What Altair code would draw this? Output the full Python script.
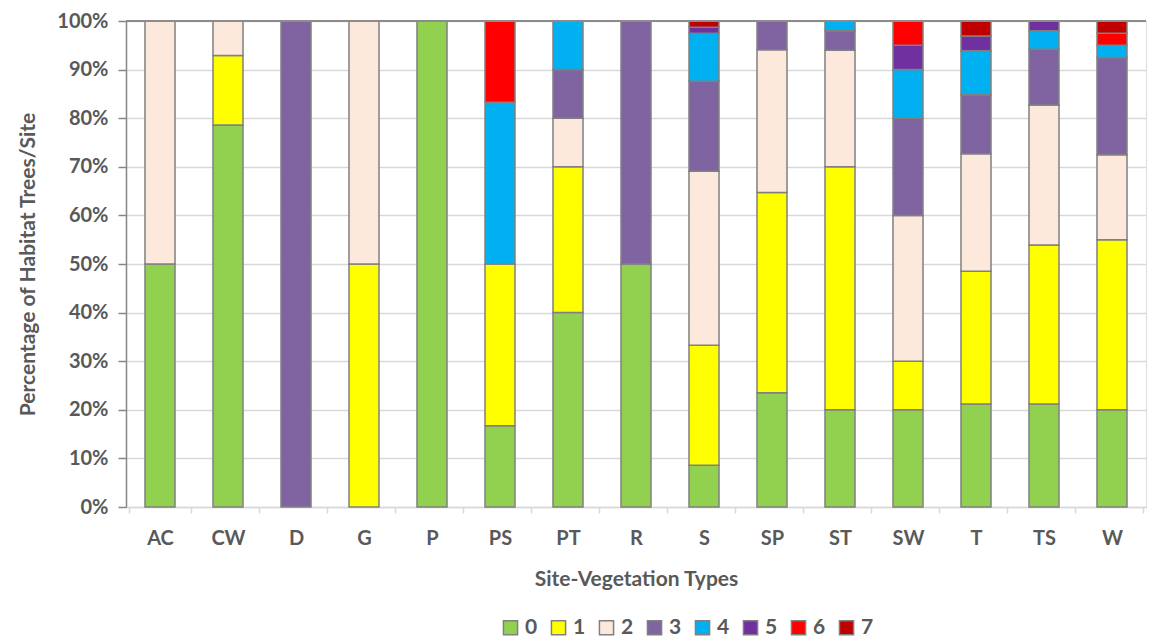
import altair as alt
import pandas as pd

sites = ["AC", "CW", "D", "G", "P", "PS", "PT", "R", "S", "SP", "ST", "SW", "T", "TS", "W"]
classes = ["0", "1", "2", "3", "4", "5", "6", "7"]
colors = ["#92D050", "#FFFF00", "#FCE9DB", "#8064A2", "#00B0F0", "#7030A0", "#FF0000", "#C00000"]

# percentage of habitat trees per class (0..7) for each site
pct_AC = [50, 0, 50, 0, 0, 0, 0, 0]
pct_CW = [78.6, 14.3, 7.1, 0, 0, 0, 0, 0]
pct_D = [0, 0, 0, 100, 0, 0, 0, 0]
pct_G = [0, 50, 50, 0, 0, 0, 0, 0]
pct_P = [100, 0, 0, 0, 0, 0, 0, 0]
pct_PS = [16.7, 33.3, 0, 0, 33.3, 0, 16.7, 0]
pct_PT = [40, 30, 10, 10, 10, 0, 0, 0]
pct_R = [50, 0, 0, 50, 0, 0, 0, 0]
pct_S = [8.6, 24.7, 35.8, 18.5, 9.9, 1.2, 0, 1.3]
pct_SP = [23.5, 41.2, 29.4, 5.9, 0, 0, 0, 0]
pct_ST = [20, 50, 24, 4, 2, 0, 0, 0]
pct_SW = [20, 10, 30, 20, 10, 5, 5, 0]
pct_T = [21.2, 27.3, 24.2, 12.1, 9.1, 3.0, 0, 3.1]
pct_TS = [21.2, 32.7, 28.8, 11.5, 3.8, 2.0, 0, 0]
pct_W = [20, 35, 17.5, 20, 2.5, 0, 2.5, 2.5]

values = [pct_AC, pct_CW, pct_D, pct_G, pct_P, pct_PS, pct_PT, pct_R, pct_S,
          pct_SP, pct_ST, pct_SW, pct_T, pct_TS, pct_W]

rows = []
for s, vals in zip(sites, values):
    for i, (c, v) in enumerate(zip(classes, vals)):
        if v > 0:
            rows.append({"site": s, "cls": c, "order": i, "pct": v / 100.0})
df = pd.DataFrame(rows)

FONT = "Lato"
GREY = "#595959"

bars = alt.Chart(df).mark_bar(size=30, stroke="#808080", strokeWidth=1.5).encode(
    x=alt.X("site:N", sort=sites, title="Site-Vegetation Types",
            axis=alt.Axis(labelAngle=0, tickBand="extent", tickSize=6, labelPadding=15,
                          labelFontSize=20, labelFontWeight="bold", labelColor=GREY,
                          titleFontSize=21, titleFontWeight="bold", titleColor=GREY,
                          titlePadding=20, domainColor="#D9D9D9", tickColor="#D9D9D9",
                          domainWidth=1.5, tickWidth=1.5, labelFont=FONT, titleFont=FONT)),
    y=alt.Y("pct:Q", stack="zero", scale=alt.Scale(domain=[0, 1]),
            title="Percentage  of Habitat Trees/Site",
            axis=alt.Axis(format=".0%", values=[i / 10 for i in range(11)], tickSize=8,
                          labelPadding=10, labelFontSize=20, labelFontWeight="bold",
                          labelColor=GREY, titleFontSize=21, titleFontWeight="bold",
                          titleColor=GREY, titlePadding=18, domainColor="#868686",
                          tickColor="#868686", domainWidth=1.5, tickWidth=1.5,
                          gridColor="#D9D9D9", gridWidth=1.5, labelFont=FONT, titleFont=FONT)),
    color=alt.Color("cls:N", sort=classes,
                    scale=alt.Scale(domain=classes, range=colors),
                    legend=alt.Legend(title=None, orient="none", direction="horizontal",
                                      legendX=374, legendY=596, symbolType="square",
                                      symbolSize=200, symbolStrokeColor="#808080",
                                      symbolStrokeWidth=1.5, labelFontSize=21,
                                      labelFontWeight="bold", labelColor=GREY,
                                      labelFont=FONT, columnPadding=10, labelOffset=4,
                                      symbolOpacity=1)),
    order=alt.Order("order:Q", sort="ascending"),
)

top = alt.Chart(pd.DataFrame({"y": [1.0]})).mark_rule(color="#8C8C8C", strokeWidth=2).encode(
    y="y:Q"
)

chart = alt.layer(bars, top).properties(width=1020, height=486).configure_view(
    stroke=None
).configure(padding={"left": 9, "top": 3, "right": 0, "bottom": 0})

chart.save("out.html", embed_options={"renderer": "svg", "actions": False})
